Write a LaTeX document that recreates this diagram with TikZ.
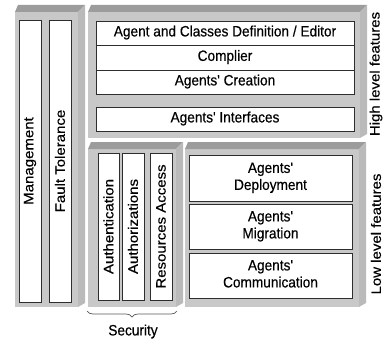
\documentclass[tikz,border=0pt]{standalone}
\usepackage{fontspec}
\setmainfont{Liberation Sans}
\usetikzlibrary{decorations.pathreplacing}

\definecolor{slabfront}{RGB}{200,200,200}
\definecolor{slabtop}{RGB}{156,156,156}
\definecolor{slabside}{RGB}{186,186,186}
\definecolor{boxline}{RGB}{45,45,45}

\newcommand\lbl{\fontsize{15}{17}\selectfont\addfontfeature{FakeBold=0.4}}
% horizontal text, slightly narrowed
\newcommand\hx[1]{\scalebox{0.91}[1]{\begin{tabular}{@{}c@{}}#1\end{tabular}}}
% rotated text, narrowed across its lines
\newcommand\vx[1]{\scalebox{1}[0.91]{#1}}
% straight apostrophe
\newcommand\ap{\textquotesingle}
% a grey bevelled slab: left, top, right, bottom
\newcommand\drawslab[4]{%
  \fill[slabfront] (#1,#2+7) rectangle (#3-7,#4);
  \fill[slabtop] (#1,#2+7) -- (#1+3,#2) -- (#3,#2) -- (#3-7,#2+7) -- cycle;
  \fill[slabside] (#3-7,#2+7) -- (#3,#2) -- (#3,#4-4) -- (#3-7,#4) -- cycle;
}

\begin{document}
\begin{tikzpicture}[x=1pt,y=-1pt,
  wbox/.style={draw=boxline, line width=0.9pt, fill=white, inner sep=0pt, font=\lbl},
  vbox/.style={wbox, rotate=90},
  sidelabel/.style={rotate=90, font=\lbl, inner sep=0pt}]
\useasboundingbox (0,0) rectangle (385,345);
\fill[white] (0,0) rectangle (385,345);

% slabs
\drawslab{15}{5}{85}{307}
\drawslab{88}{5}{367}{138}
\drawslab{88}{142}{183}{307}
\drawslab{185}{142}{366}{307}

% cross-cutting services
\node[vbox, minimum width=282pt, minimum height=22pt] (mgmt) at (30,161) {\vx{Management}};
\node[vbox, minimum width=282pt, minimum height=22pt] (fault) at (60,161) {\vx{Fault Tolerance}};

% high level features
\node[wbox, minimum width=258pt, minimum height=24pt] (editor) at (225,33) {\hx{Agent and Classes Definition / Editor}};
\node[wbox, minimum width=258pt, minimum height=25pt] (compiler) at (225,57.5) {\hx{Complier}};
\node[wbox, minimum width=258pt, minimum height=24pt] (creation) at (225,82) {\hx{Agents\ap{} Creation}};
\node[wbox, minimum width=258pt, minimum height=24pt] (interfaces) at (225,119) {\hx{Agents\ap{} Interfaces}};

% security
\node[vbox, minimum width=147pt, minimum height=21pt] (authn) at (108.5,226.5) {\vx{Authentication}};
\node[vbox, minimum width=147pt, minimum height=22pt] (authz) at (133,226.5) {\vx{Authorizations}};
\node[vbox, minimum width=147pt, minimum height=22pt] (resources) at (161,226.5) {\vx{Resources Access}};

% low level features
\node[wbox, minimum width=163pt, minimum height=46pt] (deploy) at (270.5,178) {\hx{Agents\ap\\Deployment}};
\node[wbox, minimum width=163pt, minimum height=45pt] (migration) at (270.5,226.5) {\hx{Agents\ap\\Migration}};
\node[wbox, minimum width=163pt, minimum height=45pt] (comm) at (270.5,275.5) {\hx{Agents\ap\\Communication}};

% side labels
\node[sidelabel] (high) at (376,74) {\vx{High level features}};
\node[sidelabel] (low) at (376,234) {\vx{Low level features}};

% security brace
\coordinate (secL) at (87,311);
\coordinate (secR) at (177,311);
\draw[gray!70!black, line width=0.7pt, decorate, decoration={brace, amplitude=6pt, mirror}] (secL) -- (secR);
\node[font=\lbl, inner sep=0pt] (security) at (133,332) {\hx{Security}};
\end{tikzpicture}
\end{document}
